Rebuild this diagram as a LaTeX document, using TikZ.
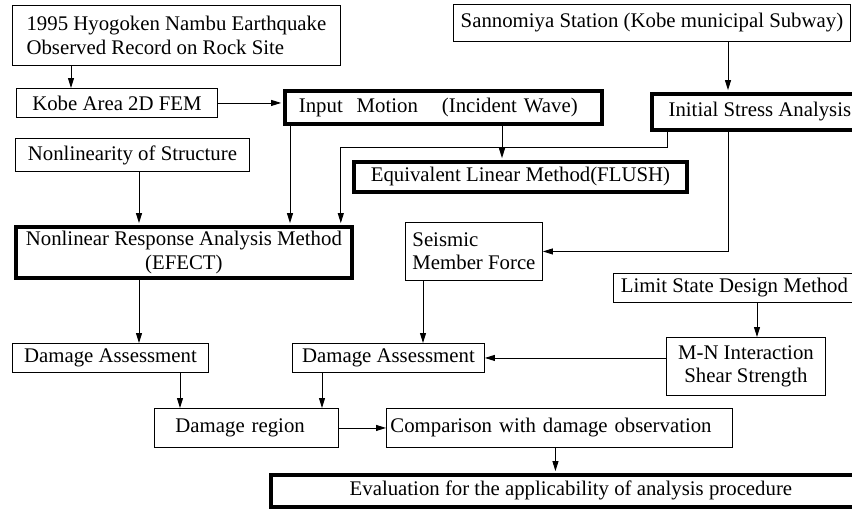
\documentclass[tikz,border=0pt]{standalone}
\usepackage{fontspec}
\setmainfont{Liberation Serif}
\usetikzlibrary{arrows.meta, positioning, calc}

\begin{document}
\begin{tikzpicture}[
            x=1pt, y=-1pt,
            font=\fontsize{20.8}{23.5}\selectfont,
            >={Triangle[length=10pt, width=6pt]},
            box/.style={
                rectangle,
                draw=black,
                line width=0.9pt,
                anchor=north west,
                inner sep=2pt,
                align=center
            },
            boldbox/.style={
                box,
                line width=3.8pt
            },
            arrow/.style={
                line width=0.9pt,
                ->
            },
            tobold/.style={
                arrow,
                shorten >=1.9pt
            }
        ]

        \useasboundingbox (0,0) rectangle (852,509);
        \clip (0,0) rectangle (852,509);

        % left column
        \node (quake) [box, align=left, minimum width=328, minimum height=60] at (12,5) {1995 Hyogoken Nambu Earthquake\\Observed Record on Rock Site};
        \node (kobe) [box, minimum width=201, minimum height=29] at (16,88) {Kobe Area 2D FEM};
        \node (nonlin) [box, minimum width=234, minimum height=33] at (15,138) {Nonlinearity of Structure};
        \node (nra) [boldbox, minimum width=336, minimum height=51] at (14,225) {Nonlinear Response Analysis Method\\(EFECT)};
        \node (assess1) [box, minimum width=196, minimum height=29] at (12,343) {Damage Assessment};
        \node (region) [box, align=left, text width=142, inner xsep=21pt, minimum height=39] at (154,408) {Damage region};

        % middle
        \node (input) [boldbox, align=left, text width=289, inner xsep=14pt, minimum height=33] at (283,89) {Input\ \ Motion\hspace{24pt}(Incident Wave)};
        \node (equiv) [boldbox, minimum width=333, minimum height=30] at (352,160) {Equivalent Linear Method(FLUSH)};
        \node (seismic) [box, align=left, minimum width=137, minimum height=58] at (405,222) {Seismic\\Member Force};
        \node (assess2) [box, minimum width=192, minimum height=29] at (292,343) {Damage Assessment};
        \node (compare) [box, align=left, text width=338, inner xsep=4pt, minimum height=39] at (386,408) {Comparison with damage observation};
        \node (eval) [boldbox, minimum width=600, minimum height=32] at (269,473) {Evaluation for the applicability of analysis procedure};

        % right column
        \node (sannomiya) [box, minimum width=397, minimum height=37] at (453,4) {Sannomiya Station (Kobe municipal Subway)};
        \node (stress) [boldbox, minimum width=216, minimum height=36] at (650,92) {Initial Stress Analysis};
        \node (limit) [box, minimum width=242, minimum height=29] at (613,273) {Limit State Design Method};
        \node (mn) [box, minimum width=159, minimum height=58] at (666,337) {M-N Interaction\\Shear Strength};

        \draw [arrow] ([xshift=59pt]quake.south west) -- ([xshift=59pt]quake.south west |- kobe.north);
        \draw [tobold] (kobe.east) -- (kobe.east -| input.west);
        \draw [tobold] ([xshift=7pt]input.south west) -- ([xshift=7pt]input.south west |- nra.north);
        \draw [tobold] ([xshift=219pt]input.south west) -- ([xshift=219pt]input.south west |- equiv.north);
        \draw [tobold] ([xshift=78pt]stress.north west |- sannomiya.south) -- ([xshift=78pt]stress.north west);
        \draw [tobold] ([xshift=17pt]stress.south west) -- ++(0,16) -| ([xshift=-13pt]nra.north east);
        \draw [arrow] ([xshift=78pt]stress.south west) |- (seismic.east);
        \draw [tobold] ([xshift=124pt]nonlin.south west) -- ([xshift=124pt]nonlin.south west |- nra.north);

        \draw [arrow] ([xshift=125pt]nra.south west) -- ([xshift=125pt]nra.south west |- assess1.north);
        \draw [arrow] ([xshift=18pt]seismic.south west) -- ([xshift=18pt]seismic.south west |- assess2.north);
        \draw [arrow] ([xshift=144pt]limit.south west) -- ([xshift=144pt]limit.south west |- mn.north);
        \draw [arrow] (mn.west |- assess2.east) -- (assess2.east);

        \draw [arrow] ([xshift=168pt]assess1.south west) -- ([xshift=168pt]assess1.south west |- region.north);
        \draw [arrow] ([xshift=30pt]assess2.south west) -- ([xshift=30pt]assess2.south west |- region.north);
        \draw [arrow] (region.east) -- (compare.west);
        \draw [tobold] ([xshift=-4pt]compare.south) -- ([xshift=-4pt]compare.south |- eval.north);

        \end{tikzpicture}
\end{document}
